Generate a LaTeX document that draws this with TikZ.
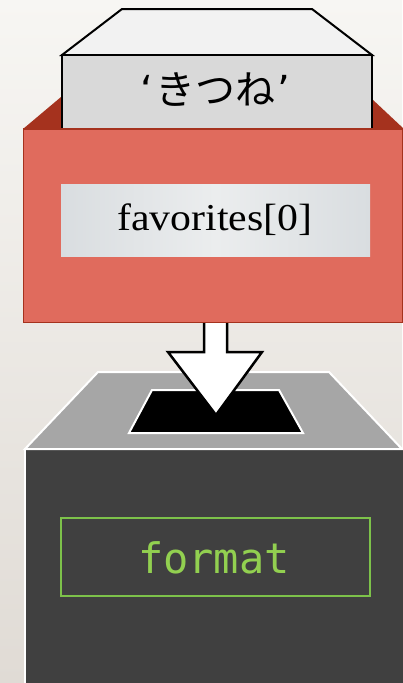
\documentclass[tikz,border=0pt]{standalone}
\usepackage{fontspec}
\setmainfont{Liberation Serif}
\newfontfamily\jpfont{Noto Sans CJK JP}
\newfontfamily\quotefont{DejaVu Sans}
\newfontfamily\codefont{DejaVu Sans Mono}
\definecolor{bgtop}{HTML}{F7F6F3}
\definecolor{bgbot}{HTML}{E0DBD5}
\definecolor{cardtop}{HTML}{F2F2F2}
\definecolor{cardfront}{HTML}{D9D9D9}
\definecolor{redfront}{HTML}{E06B5D}
\definecolor{reddark}{HTML}{A5321E}
\definecolor{marbleA}{HTML}{D9DDE0}
\definecolor{marbleB}{HTML}{EBEDEE}
\definecolor{boxtop}{HTML}{A6A6A6}
\definecolor{boxfront}{HTML}{404040}
\definecolor{codegreen}{HTML}{92D050}
\definecolor{framegreen}{HTML}{7DC24A}
\tikzset{
  cardline/.style={draw=black, line width=2pt, line join=miter},
  boxline/.style={draw=white, line width=2pt, line join=miter},
}
\begin{document}
\begin{tikzpicture}[x=1pt,y=-1pt]
\useasboundingbox (0,0) rectangle (402,683);
% background
\shade[top color=bgtop, bottom color=bgbot] (0,0) rectangle (402,683);

% ---------- dark box (receiver) ----------
\path[fill=boxfront, boxline] (25,449) rectangle (404,686);
\path[fill=boxtop, boxline] (25,449) -- (98,372) -- (329,372) -- (402,449) -- cycle;
\path[fill=black, boxline] (129,433) -- (152,390) -- (279,390) -- (303,433) -- cycle;
\node[draw=framegreen, line width=1.2pt, minimum width=309pt, minimum height=78pt, inner sep=0pt]
  (fmtbox) at (215.5,557) {};
\node[text=codegreen, font=\codefont\fontsize{42}{42}\selectfont, inner sep=0pt, anchor=base]
  (fmt) at (214,573) {format};

% ---------- arrow ----------
\coordinate (arrowtip) at (216,415);
\path[fill=white, draw=black, line width=2.5pt, line join=miter]
  (204,318) -- (204,352) -- (168,352) -- (arrowtip) -- (262,352) -- (227,352) -- (227,318) -- cycle;

% ---------- red box ----------
\path[fill=reddark] (23,129) -- (61,97) -- (372,99) -- (404,129) -- cycle;

% ---------- white card ----------
\path[fill=cardtop, cardline] (62,55) -- (122,9) -- (312,9) -- (372,55) -- cycle;
\path[fill=cardfront, cardline] (62,55) rectangle (372,140);
\node[font=\fontsize{40}{40}\selectfont, inner sep=0pt, anchor=base] (kitsune) at (215,104)
  {{\quotefont ‘}\hspace{2pt}{\jpfont きつね}\hspace{2pt}{\quotefont ’}};

% red front
\path[fill=redfront, draw=reddark, line width=1.8pt] (23.5,129) rectangle (402.5,322.5);
\shade[left color=marbleA, right color=marbleA, middle color=marbleB] (61,184) rectangle (370,256);
\node[inner sep=0pt, minimum width=309pt, minimum height=72pt] (label) at (215.5,220) {};
\node[font=\fontsize{38}{38}\selectfont, inner sep=0pt, anchor=base, xscale=1.1] (fav) at (215,230)
  {favorites[0]};
\end{tikzpicture}
\end{document}
